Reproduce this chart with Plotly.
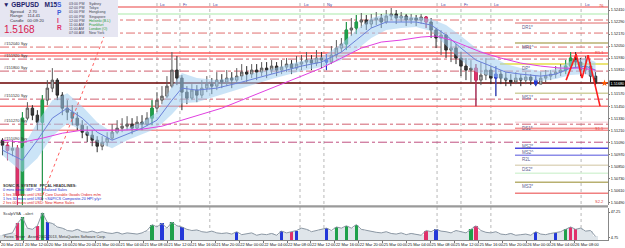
import plotly.graph_objects as go

W, H = 625, 248
PLOT_RIGHT = 608  # px, right edge of plotting area

# ---------------- data (GBPUSD M15) ----------------
first_open = 1.5111
closes = [1.5106, 1.5101, 1.5103, 1.5056, 1.5133, 1.5143, 1.5136, 1.5129, 1.5151, 1.5163,
          1.5171, 1.5156, 1.5143, 1.5139, 1.5133, 1.5126, 1.5119, 1.5116, 1.5111, 1.5105,
          1.5109, 1.5113, 1.5119, 1.5123, 1.5125, 1.5127, 1.5123, 1.5129, 1.5127, 1.5133,
          1.5143, 1.5151, 1.5155, 1.5165, 1.5181, 1.5173, 1.5159, 1.5153, 1.5161, 1.5156,
          1.5163, 1.5167, 1.5165, 1.5171, 1.5169, 1.5173, 1.5171, 1.5175, 1.5179, 1.5177,
          1.5181, 1.5179, 1.5183, 1.5181, 1.5185, 1.5181, 1.5184, 1.5187, 1.5183, 1.5187,
          1.5189, 1.5191, 1.5188, 1.5193, 1.5191, 1.5189, 1.5196, 1.5203, 1.5207, 1.5221,
          1.5223, 1.5229, 1.5231, 1.5227, 1.5231, 1.5233, 1.5229, 1.5235, 1.5237, 1.5233,
          1.5235, 1.5231, 1.5233, 1.5231, 1.5234, 1.5229, 1.5221, 1.5213, 1.5216, 1.5201,
          1.5203, 1.5193, 1.5185, 1.5181, 1.5183, 1.5171, 1.5176, 1.5181, 1.5173, 1.5177,
          1.5173, 1.5171, 1.5169, 1.5173, 1.5171, 1.5174, 1.5171, 1.5167, 1.5173, 1.5175,
          1.5177, 1.5179, 1.5181, 1.5185, 1.5193, 1.5189, 1.5181, 1.5185, 1.5175, 1.5168]
highs = [1.5113, 1.5109, 1.5111, 1.5106, 1.5139, 1.5149, 1.5146, 1.5141, 1.5156, 1.5171,
         1.5183, 1.5173, 1.5159, 1.5151, 1.5146, 1.5139, 1.5131, 1.5125, 1.5121, 1.5115,
         1.5115, 1.5119, 1.5127, 1.5131, 1.5133, 1.5135, 1.5133, 1.5135, 1.5136, 1.5139,
         1.5151, 1.5159, 1.5165, 1.5175, 1.5199, 1.5195, 1.5176, 1.5165, 1.5167, 1.5166,
         1.5171, 1.5175, 1.5173, 1.5179, 1.5177, 1.5181, 1.5179, 1.5183, 1.5187, 1.5185,
         1.5187, 1.5187, 1.5189, 1.5189, 1.5191, 1.5189, 1.5191, 1.5193, 1.5191, 1.5195,
         1.5196, 1.5199, 1.5196, 1.5201, 1.5199, 1.5197, 1.5205, 1.5211, 1.5213, 1.5229,
         1.5233, 1.5236, 1.5238, 1.5236, 1.5237, 1.5239, 1.5237, 1.5241, 1.5243, 1.5241,
         1.5239, 1.5237, 1.5237, 1.5236, 1.5237, 1.5235, 1.5233, 1.5223, 1.5221, 1.5217,
         1.5211, 1.5207, 1.5199, 1.5193, 1.5191, 1.5187, 1.5189, 1.5193, 1.5185, 1.5185,
         1.5181, 1.5179, 1.5177, 1.5179, 1.5177, 1.5179, 1.5177, 1.5175, 1.5179, 1.5181,
         1.5181, 1.5185, 1.5187, 1.5191, 1.5199, 1.5199, 1.5193, 1.5195, 1.5189, 1.5179]
lows = [1.5096, 1.5091, 1.5095, 1.5046, 1.5046, 1.5131, 1.5131, 1.5121, 1.5051, 1.5146,
        1.5159, 1.5151, 1.5136, 1.5131, 1.5126, 1.5121, 1.5113, 1.5109, 1.5105, 1.5099,
        1.5101, 1.5105, 1.5111, 1.5117, 1.5119, 1.5121, 1.5117, 1.5121, 1.5121, 1.5125,
        1.5126, 1.5139, 1.5147, 1.5153, 1.5163, 1.5166, 1.5141, 1.5147, 1.5151, 1.5149,
        1.5153, 1.5159, 1.5157, 1.5161, 1.5163, 1.5165, 1.5163, 1.5167, 1.5171, 1.5169,
        1.5173, 1.5171, 1.5175, 1.5173, 1.5177, 1.5175, 1.5177, 1.5179, 1.5177, 1.5181,
        1.5181, 1.5183, 1.5181, 1.5185, 1.5183, 1.5181, 1.5187, 1.5193, 1.5199, 1.5201,
        1.5215, 1.5217, 1.5223, 1.5221, 1.5223, 1.5226, 1.5223, 1.5227, 1.5231, 1.5227,
        1.5229, 1.5225, 1.5227, 1.5225, 1.5227, 1.5223, 1.5213, 1.5203, 1.5196, 1.5193,
        1.5189, 1.5187, 1.5175, 1.5171, 1.5169, 1.5145, 1.5166, 1.5171, 1.5167, 1.5155,
        1.5167, 1.5165, 1.5165, 1.5167, 1.5165, 1.5167, 1.5166, 1.5165, 1.5167, 1.5169,
        1.5171, 1.5173, 1.5175, 1.5177, 1.5181, 1.5183, 1.5175, 1.5177, 1.5169, 1.5165]
opens = [first_open] + closes[:-1]

volumes = [8, 10, 12, 28, 38, 20, 18, 24, 46, 30,
           28, 22, 20, 16, 15, 18, 14, 13, 15, 12,
           14, 12, 11, 13, 10, 12, 11, 10, 12, 16,
           26, 22, 28, 20, 30, 24, 22, 18, 16, 17,
           14, 13, 15, 12, 11, 12, 10, 14, 9, 10,
           12, 8, 10, 9, 11, 8, 15, 12, 14, 16,
           20, 18, 14, 16, 18, 20, 16, 22, 20, 24,
           20, 26, 18, 16, 15, 13, 12, 14, 11, 10,
           12, 9, 11, 10, 8, 16, 14, 18, 15, 14,
           12, 16, 14, 12, 18, 24, 16, 13, 12, 14,
           10, 9, 11, 8, 9, 10, 8, 14, 10, 9,
           11, 12, 14, 18, 22, 18, 20, 15, 16, 6]

candle_green = [4, 8, 30, 69, 71, 113, 114]
candle_red = [1, 3, 85, 95]
candle_blue = [65, 99, 107]
vol_green = [4, 8, 30, 34, 67, 69, 71, 94, 113]
vol_blue = [9, 32, 36, 47, 56, 59, 65, 87, 107, 111]
vol_red = [3, 7, 58, 85, 95, 114, 115]

# moving average (blue) with envelope, sampled at candle indices
ma_fast_idx = [0, 4, 7, 10, 13, 16, 19, 22, 25, 28, 31, 34, 36, 39, 43, 48, 54, 60, 64, 68,
               71, 74, 77, 80, 83, 86, 89, 92, 95, 98, 101, 104, 108, 111, 114, 117, 119]
ma_fast = [1.5101, 1.5091, 1.5111, 1.5133, 1.5143, 1.5133, 1.5119, 1.5111, 1.5117, 1.5123,
           1.5131, 1.5151, 1.5163, 1.5161, 1.5163, 1.5169, 1.5177, 1.5185, 1.5189, 1.5199,
           1.5211, 1.5223, 1.5229, 1.5229, 1.5229, 1.5226, 1.5216, 1.5203, 1.5191, 1.5185,
           1.5179, 1.5177, 1.5175, 1.5177, 1.5183, 1.5185, 1.5181]
band_pips = [5, 12, 18, 18, 15, 12, 10, 8, 6, 6, 8, 14, 15, 12, 8, 6, 5, 5, 5, 8,
             10, 10, 8, 6, 5, 6, 10, 12, 12, 10, 8, 6, 5, 5, 7, 8, 8]
# slow moving average (magenta)
ma_slow_idx = [0, 4, 8, 12, 16, 20, 24, 28, 32, 36, 40, 44, 48, 52, 56, 60, 64, 68, 72, 76,
               80, 84, 87, 90, 93, 96, 100, 104, 108, 112, 116, 119]
ma_slow = [1.5111, 1.5109, 1.5113, 1.5118, 1.5121, 1.5121, 1.5121, 1.5122, 1.5125, 1.5131,
           1.5137, 1.5143, 1.5151, 1.5159, 1.5167, 1.5175, 1.5183, 1.5193, 1.5203, 1.5209,
           1.5211, 1.5214, 1.5215, 1.5211, 1.5205, 1.5199, 1.5193, 1.5188, 1.5185, 1.5183,
           1.5183, 1.5181]
# zigzag (red)
zz_idx = [113.1, 115.1, 116.3, 117.5, 119.9]
zz_price = [1.5171, 1.5197, 1.5173, 1.5196, 1.5145]
# dotted trend line
trend_idx = [7.7, 23.2]
trend_price = [1.5051, 1.5251]

current_price = 1.5168

# horizontal levels
level_prices = [1.5244, 1.5237, 1.5231, 1.5228, 1.5218, 1.5208, 1.5204, 1.5198, 1.5195, 1.5192,
                1.5187, 1.5180, 1.5168, 1.5158, 1.5152, 1.5145, 1.5129, 1.5127, 1.5123, 1.5121,
                1.5109, 1.5103, 1.5096, 1.5086, 1.5078, 1.5069, 1.5058]
level_names = ["", "", "", "DR1*", "", "MR1^", "", "", "", "",
               "DP*", "", "", "MS1*", "", "", "", "DS1*", "", "",
               "MS2*", "MS2^", "R2L", "DS2*", "", "MS3*", ""]
pivot_label_levels = [1.5204, 1.5192, 1.5180, 1.5152, 1.5127, 1.5109]

session_idx = [31.0, 35.6, 41.6, 59.7, 64.5, 87.2, 92.0, 98.0, 116.1]
session_names = ["Lo", "Fr", "Lo", "Lo", "Ny", "Lo", "Fr", "Lo", "Lo"]

y_tick_values = [1.5241, 1.5229, 1.5217, 1.5205, 1.5193, 1.5181, 1.5157, 1.5145, 1.5133,
                 1.5121, 1.5109, 1.5097, 1.5085, 1.5073, 1.5061, 1.5049]
y_tick_labels = ["1.52410", "1.52290", "1.52170", "1.52050", "1.51930", "1.51810", "1.51570",
                 "1.51450", "1.51330", "1.51210", "1.51090", "1.50970", "1.50850", "1.50730",
                 "1.50610", "1.50490"]
x_tick_labels = ["20 Mar 2013", "20 Mar 12:00", "20 Mar 16:00", "20 Mar 20:00", "21 Mar 00:00",
                 "21 Mar 04:00", "21 Mar 08:00", "21 Mar 12:00", "21 Mar 16:00", "21 Mar 20:00",
                 "22 Mar 00:00", "22 Mar 04:00", "22 Mar 08:00", "22 Mar 12:00", "22 Mar 16:00",
                 "22 Mar 20:00", "25 Mar 00:00", "25 Mar 04:00", "25 Mar 08:00", "25 Mar 12:00",
                 "25 Mar 16:00", "25 Mar 20:00", "26 Mar 00:00", "26 Mar 04:00", "26 Mar 08:00"]
vol_tick_values = [47.25, 4.75]
vol_tick_labels = ["47.25", "4.75"]

headlines = ["SONIC R. SYSTEM   FPCAL HEADLINES:",
             "0 mins since GBP: CB Realized Sales",
             "1 hrs 30 mins until USD: Core Durable Goods Orders m/m",
             "1 hrs 30 mins until USD: &lt;S&amp;P/CS Composite-20 HPI y/y&gt;",
             "2 hrs 00 mins until USD: New Home Sales"]
clock_times = ["03:00 PM", "02:00 PM", "01:00 PM", "01:00 PM", "12:00 PM", "11:00 AM", "11:00 AM", "07:00 AM"]
clock_cities = ["Sydney", "Tokyo", "Hongkong", "Singapore", "Helsinki (B.L)", "Frankfurt", "London (O)", "New York"]

# ---------------- styles ----------------
RED_DD = "#e07070"
level_styles = [
    dict(c="#f4a0a0", d="solid", w=2, x0=0), dict(c="#d4f4d4", d="solid", w=2, x0=0),
    dict(c=RED_DD, d="dashdot", w=1, x0=0), dict(c="#e06868", d="solid", w=1, x0=515),
    dict(c=RED_DD, d="dashdot", w=1, x0=0), dict(c="#b8b070", d="solid", w=1.5, x0=515),
    dict(c=RED_DD, d="dashdot", w=1, x0=0), dict(c="#ff5a5a", d="solid", w=1.5, x0=0),
    dict(c="#ff8080", d="solid", w=1.5, x0=0), dict(c="#d06070", d="dashdot", w=1, x0=0),
    dict(c="#e4dc48", d="solid", w=1.5, x0=500), dict(c="#d06070", d="dashdot", w=1, x0=0),
    dict(c="#6a0000", d="solid", w=1.5, x0=0), dict(c="#d0d0a0", d="solid", w=1.5, x0=515),
    dict(c="#d06070", d="dashdot", w=1, x0=0), dict(c="#f87878", d="solid", w=1.5, x0=0),
    dict(c="#f5c8d0", d="solid", w=1, x0=515), dict(c="#d06070", d="dashdot", w=1, x0=0),
    dict(c="#f06060", d="solid", w=1, x0=515), dict(c="#f89090", d="solid", w=1.5, x0=0),
    dict(c="#c05080", d="dashdot", w=1, x0=0), dict(c="#4848e0", d="solid", w=1.5, x0=515),
    dict(c="#8c8ce8", d="solid", w=1.5, x0=515), dict(c="#e0d8c0", d="solid", w=1.5, x0=515),
    dict(c="#d8f4d8", d="solid", w=1.5, x0=515), dict(c="#b8b070", d="solid", w=1.5, x0=515),
    dict(c="#f08080", d="solid", w=1.5, x0=515),
]

FONT = "Liberation Sans"
def px(x):
    return x / W
def py(y):
    return 1 - y / H

Y_TOP, Y_BOT = 1.5251, 1.5046
fig = go.Figure()

n = len(closes)
idx = list(range(n))

# envelope band
upper = [m + b * 0.0001 for m, b in zip(ma_fast, band_pips)]
lower = [m - b * 0.0001 for m, b in zip(ma_fast, band_pips)]
fig.add_trace(go.Scatter(x=ma_fast_idx, y=upper, mode="lines", line=dict(width=0, color="rgba(0,0,0,0)"),
                         hoverinfo="skip", showlegend=False))
fig.add_trace(go.Scatter(x=ma_fast_idx, y=lower, mode="lines", line=dict(width=0, color="rgba(0,0,0,0)"),
                         fill="tonexty", fillcolor="rgba(160,205,240,0.55)", hoverinfo="skip", showlegend=False))

# candles
fig.add_trace(go.Candlestick(x=idx, open=opens, high=highs, low=lows, close=closes,
                             increasing=dict(line=dict(color="#5a5a5a", width=1), fillcolor="#b4b4b4"),
                             decreasing=dict(line=dict(color="#2a2a2a", width=1), fillcolor="#3a3a3a"),
                             whiskerwidth=0, showlegend=False, xaxis="x", yaxis="y"))
for sel, col in [(candle_green, "#1ea04a"), (candle_red, "#e0306a"), (candle_blue, "#2438d8")]:
    fig.add_trace(go.Candlestick(x=sel, open=[opens[i] for i in sel], high=[highs[i] for i in sel],
                                 low=[lows[i] for i in sel], close=[closes[i] for i in sel],
                                 increasing=dict(line=dict(color=col, width=1), fillcolor=col),
                                 decreasing=dict(line=dict(color=col, width=1), fillcolor=col),
                                 whiskerwidth=0, showlegend=False, xaxis="x", yaxis="y"))

# moving averages
fig.add_trace(go.Scatter(x=ma_fast_idx, y=ma_fast, mode="lines", line=dict(color="#6a80d8", width=1),
                         showlegend=False))
fig.add_trace(go.Scatter(x=ma_slow_idx, y=ma_slow, mode="lines", line=dict(color="#e040e0", width=1),
                         showlegend=False))
# zigzag
fig.add_trace(go.Scatter(x=zz_idx, y=zz_price, mode="lines", line=dict(color="#ff1e1e", width=1.6),
                         showlegend=False))
# trend line
fig.add_trace(go.Scatter(x=trend_idx, y=trend_price, mode="lines", line=dict(color="#ff6060", width=1, dash="dot"),
                         showlegend=False))
# current price marker
fig.add_trace(go.Scatter(x=[120.8], y=[current_price], mode="markers",
                         marker=dict(color="#ff5a00", size=5, symbol="star"), showlegend=False))

# volume panel
fig.add_trace(go.Bar(x=idx, y=volumes, marker=dict(color="#dfe5ea", line=dict(width=0)), width=1.0,
                     showlegend=False, xaxis="x2", yaxis="y2"))
fig.add_trace(go.Scatter(x=idx, y=volumes, mode="lines", line=dict(color="#8c98a4", width=1),
                         showlegend=False, xaxis="x2", yaxis="y2"))
for sel, col in [(vol_green, "#1ea04a"), (vol_blue, "#2438d8"), (vol_red, "#e0306a")]:
    fig.add_trace(go.Bar(x=sel, y=[volumes[i] for i in sel], marker=dict(color=col, line=dict(width=0)),
                         width=0.7, showlegend=False, xaxis="x2", yaxis="y2"))

shapes = []
# session separators (dotted verticals)
for s in session_idx:
    shapes.append(dict(type="line", xref="x", yref="paper", x0=s, x1=s, y0=py(240), y1=1,
                       line=dict(color="#b8b8b8", width=1, dash="dot"), layer="below"))
# level lines
for p, st in zip(level_prices, level_styles):
    shapes.append(dict(type="line", xref="paper", yref="y", x0=px(st["x0"]), x1=px(PLOT_RIGHT), y0=p, y1=p,
                       line=dict(color=st["c"], width=st["w"], dash=st["d"]), layer="below"))
# info box
shapes.append(dict(type="rect", xref="paper", yref="paper", x0=0, x1=px(118), y0=py(37), y1=1,
                   fillcolor="#e6e6f2", line=dict(width=0), layer="above"))
# panel separator
shapes.append(dict(type="rect", xref="paper", yref="paper", x0=0, x1=px(PLOT_RIGHT), y0=py(207.5), y1=py(205.3),
                   fillcolor="#9a9a9a", line=dict(width=0), layer="above"))

ann = []
def txt(x, y, s, size=4.5, color="#333333", xanchor="left", yanchor="middle", bg=None, bold=False):
    if bold:
        s = "<b>" + s + "</b>"
    d = dict(x=px(x), y=py(y), xref="paper", yref="paper", text=s, showarrow=False,
             xanchor=xanchor, yanchor=yanchor, font=dict(size=size, color=color, family=FONT), borderpad=0)
    if bg:
        d["bgcolor"] = bg
    ann.append(d)

# info box texts
txt(2, 5, "▼ GBPUSD   M15", size=6.5, color="#22226a", bold=True)
txt(9, 11.5, "Spread    2.70", size=4.3, color="#333344")
txt(9, 16, "Range    114.41", size=4.3, color="#333344")
txt(9, 20.5, "Candle   00:09:20", size=4.3, color="#333344")
txt(3, 29.5, "1.5168", size=10, color="#d81b50")
for j, (ch, col) in enumerate(zip(["S", "P", "I", "R"], ["#3a5ad8", "#3a5ad8", "#e0306a", "#e0306a"])):
    txt(56, 5 + j * 7.5, ch, size=6.5, color=col, bold=True)
for j, (t, c) in enumerate(zip(clock_times, clock_cities)):
    col = "#1a9a30" if 4 <= j <= 6 else "#444455"
    txt(68, 4 + j * 4.2, t, size=3.6, color="#444455")
    txt(88, 4 + j * 4.2, c, size=3.6, color=col)

# level labels (right side)
for p, name in zip(level_prices, level_names):
    if name:
        ann.append(dict(x=px(520), y=p, xref="paper", yref="y", text=name, showarrow=False,
                        xanchor="left", yanchor="top", font=dict(size=4.5, color="#606090", family=FONT)))
# pivot labels (left side)
for p in pivot_label_levels:
    ann.append(dict(x=px(3), y=p, xref="paper", yref="y", text="#" + f"{p:.5f}".replace(".", "") + " Syy",
                    showarrow=False, xanchor="left", yanchor="bottom",
                    font=dict(size=4, color="#333333", family=FONT), borderpad=0))
# small red tags near right edge
for p, t in [(1.5246, "76"), (1.5199, "R1.1"), (1.5123, "S1.1"), (1.5050, "S2.2")]:
    ann.append(dict(x=px(606), y=p, xref="paper", yref="y", text=t, showarrow=False, xanchor="right",
                    yanchor="middle", font=dict(size=4, color="#e04040", family=FONT)))
# current price label
ann.append(dict(x=px(609), y=current_price, xref="paper", yref="y", text="1.51680", showarrow=False,
                xanchor="left", yanchor="middle", bgcolor="#000000",
                font=dict(size=3.8, color="#ffffff", family=FONT), borderpad=0.5))
# session names
for s, nm in zip(session_idx, session_names):
    ann.append(dict(x=s + 0.3, y=py(4.5), xref="x", yref="paper", text=nm, showarrow=False,
                    xanchor="left", yanchor="middle", font=dict(size=4, color="#4040a0", family=FONT)))
# headlines
for j, line in enumerate(headlines):
    col = ["#333333", "#2030d0", "#e02020", "#2030d0", "#e02020"][j]
    txt(2, 186 + j * 4.3, line, size=3.8, color=col, bold=(j == 0))
# volume panel texts
txt(2, 213, "ScalpVSA  ..alert", size=4, color="#333333")
txt(3, 237, "Forex Tester   Asset 2002-2013, MetaQuotes Software Corp.", size=3.8, color="#333333")

x_tick_pos = [k * 4.8 - 0.5 for k in range(len(x_tick_labels))]

fig.update_layout(
    width=W, height=H, margin=dict(l=0, r=0, t=0, b=0),
    paper_bgcolor="white", plot_bgcolor="white",
    showlegend=False, shapes=shapes, annotations=ann, barmode="overlay", bargap=0,
    xaxis=dict(domain=[0, px(PLOT_RIGHT)], range=[-0.5, 121.5], showticklabels=False, showgrid=False,
               zeroline=False, rangeslider=dict(visible=False), anchor="y", fixedrange=True),
    yaxis=dict(domain=[py(205.3), 1], range=[Y_BOT, Y_TOP], side="right", tickvals=y_tick_values,
               ticktext=y_tick_labels, tickfont=dict(size=3.8, color="#111111", family=FONT),
               ticks="outside", ticklen=1, tickcolor="#777777", showgrid=False, zeroline=False,
               showline=True, linecolor="#888888", linewidth=1, anchor="x", automargin=False),
    xaxis2=dict(domain=[0, px(PLOT_RIGHT)], matches="x", anchor="y2", tickvals=x_tick_pos,
                ticktext=x_tick_labels, tickfont=dict(size=4.0, color="#111111", family=FONT),
                tickangle=0, ticks="outside", ticklen=2, tickcolor="#777777",
                ticklabelposition="outside right",
                showgrid=False, zeroline=False, showline=True, linecolor="#888888", automargin=False),
    yaxis2=dict(domain=[py(240), py(208)], range=[0, 54], side="right", tickvals=vol_tick_values,
                ticktext=vol_tick_labels, tickfont=dict(size=3.8, color="#111111", family=FONT),
                ticks="outside", ticklen=1, tickcolor="#777777", showgrid=False, zeroline=False,
                showline=True, linecolor="#888888", anchor="x2", automargin=False),
)

fig.write_html("out.html")
